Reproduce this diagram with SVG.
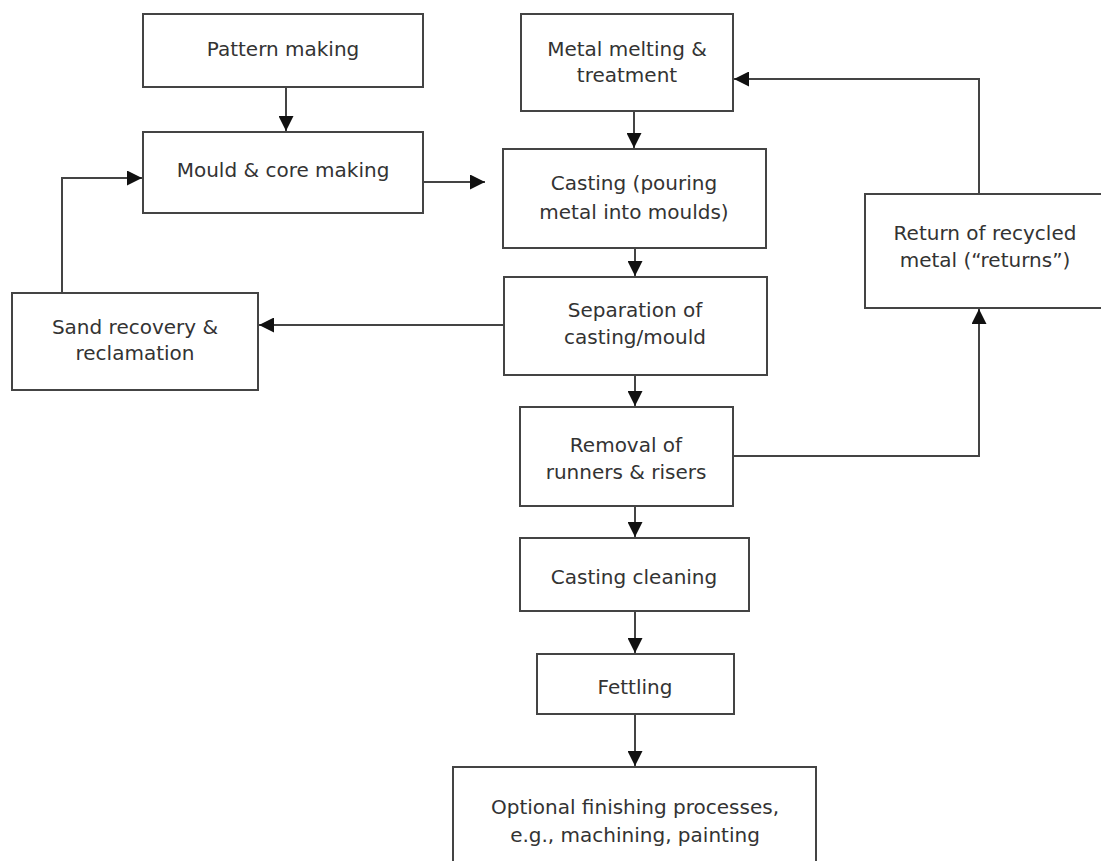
<svg xmlns="http://www.w3.org/2000/svg" width="1101" height="861" viewBox="0 0 1101 861">
<style>
.box{fill:#fff;stroke:#444;stroke-width:2}
.lbl{font-family:"DejaVu Sans",Verdana,sans-serif;font-size:20px;fill:#333;text-anchor:middle}
.con{fill:none;stroke:#444;stroke-width:2}
</style>
<defs>
<marker id="ah" viewBox="0 0 10 10" refX="10" refY="5" markerWidth="8" markerHeight="7.5" orient="auto" markerUnits="strokeWidth">
<path d="M0,0 L10,5 L0,10 z" fill="#111"/>
</marker>
</defs>
<rect width="1101" height="861" fill="#fff"/>
<g id="connectors">
<line class="con" x1="286" y1="87" x2="286" y2="131" marker-end="url(#ah)"/>
<line class="con" x1="423" y1="182" x2="485" y2="182" marker-end="url(#ah)"/>
<line class="con" x1="634" y1="111" x2="634" y2="148" marker-end="url(#ah)"/>
<line class="con" x1="635" y1="248" x2="635" y2="276" marker-end="url(#ah)"/>
<line class="con" x1="504" y1="325" x2="259" y2="325" marker-end="url(#ah)"/>
<polyline class="con" points="62,293 62,178 142,178" marker-end="url(#ah)"/>
<line class="con" x1="635" y1="375" x2="635" y2="406" marker-end="url(#ah)"/>
<polyline class="con" points="733,456 979,456 979,309" marker-end="url(#ah)"/>
<polyline class="con" points="979,194 979,79 734,79" marker-end="url(#ah)"/>
<line class="con" x1="635" y1="506" x2="635" y2="537" marker-end="url(#ah)"/>
<line class="con" x1="635" y1="611" x2="635" y2="653" marker-end="url(#ah)"/>
<line class="con" x1="635" y1="714" x2="635" y2="766" marker-end="url(#ah)"/>
</g>
<g id="pattern">
<rect class="box" x="143" y="14" width="280" height="73"/>
<text class="lbl" x="283" y="56">Pattern making</text>
</g>
<g id="mould">
<rect class="box" x="143" y="132" width="280" height="81"/>
<text class="lbl" x="283" y="177">Mould &amp; core making</text>
</g>
<g id="melting">
<rect class="box" x="521" y="14" width="212" height="97"/>
<text class="lbl" x="627" y="56">Metal melting &amp;</text>
<text class="lbl" x="627" y="82">treatment</text>
</g>
<g id="casting">
<rect class="box" x="503" y="149" width="263" height="99"/>
<text class="lbl" x="634" y="190">Casting (pouring</text>
<text class="lbl" x="634" y="219">metal into moulds)</text>
</g>
<g id="separation">
<rect class="box" x="504" y="277" width="263" height="98"/>
<text class="lbl" x="635" y="317">Separation of</text>
<text class="lbl" x="635" y="344">casting/mould</text>
</g>
<g id="sand">
<rect class="box" x="12" y="293" width="246" height="97"/>
<text class="lbl" x="135" y="334">Sand recovery &amp;</text>
<text class="lbl" x="135" y="360">reclamation</text>
</g>
<g id="removal">
<rect class="box" x="520" y="407" width="213" height="99"/>
<text class="lbl" x="626" y="452">Removal of</text>
<text class="lbl" x="626" y="479">runners &amp; risers</text>
</g>
<g id="returns">
<rect class="box" x="865" y="194" width="240" height="114"/>
<text class="lbl" x="985" y="240">Return of recycled</text>
<text class="lbl" x="985" y="267">metal (“returns”)</text>
</g>
<g id="cleaning">
<rect class="box" x="520" y="538" width="229" height="73"/>
<text class="lbl" x="634" y="584">Casting cleaning</text>
</g>
<g id="fettling">
<rect class="box" x="537" y="654" width="197" height="60"/>
<text class="lbl" x="635" y="694">Fettling</text>
</g>
<g id="finishing">
<rect class="box" x="453" y="767" width="363" height="110"/>
<text class="lbl" x="635" y="814">Optional finishing processes,</text>
<text class="lbl" x="635" y="842">e.g., machining, painting</text>
</g>
</svg>
